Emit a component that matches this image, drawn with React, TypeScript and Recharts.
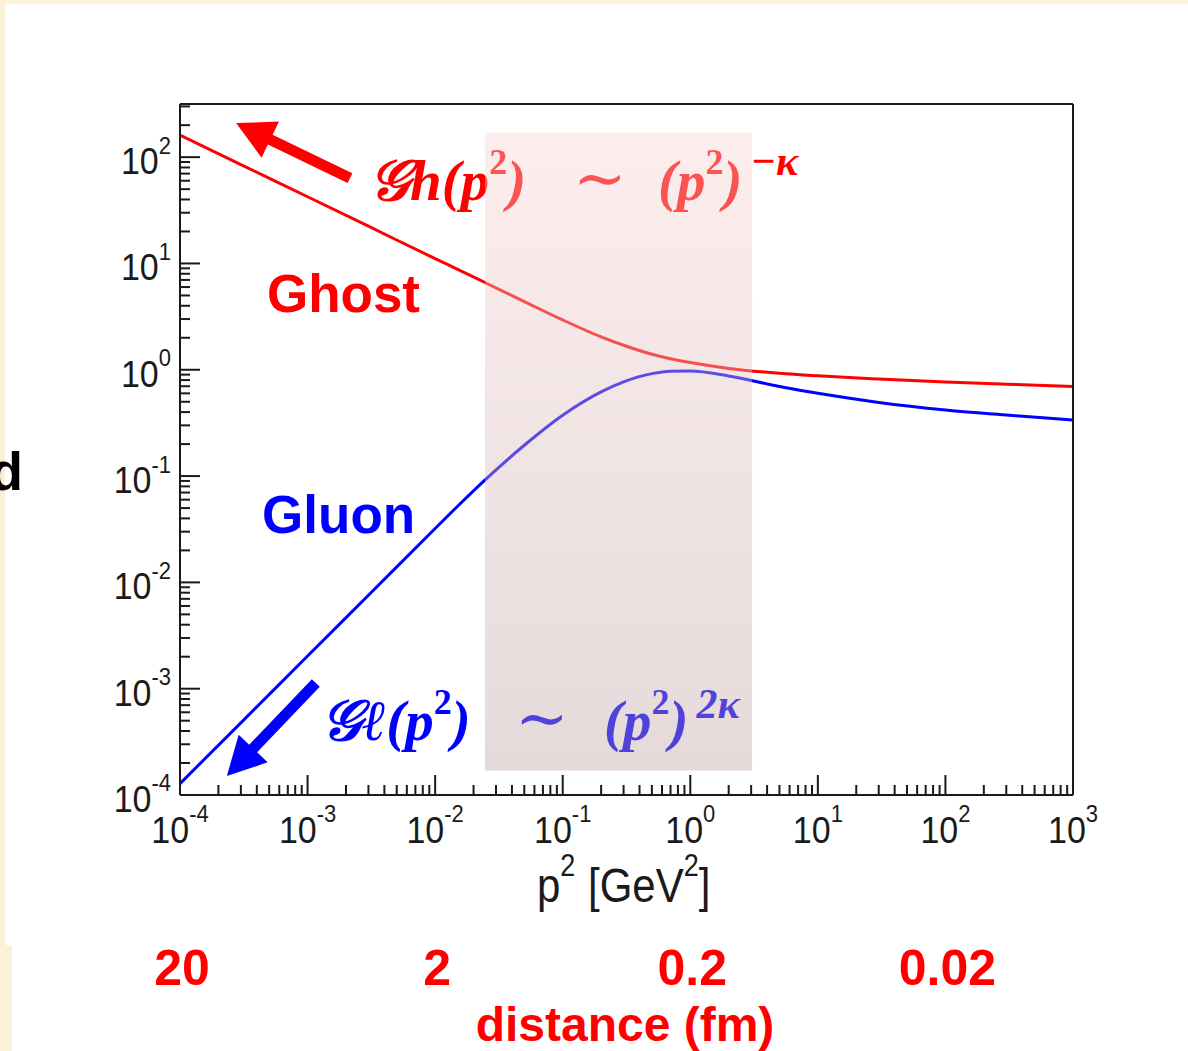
import React from "react";
import {
  LineChart,
  Line,
  XAxis,
  YAxis,
  ReferenceArea,
  ReferenceDot,
  ReferenceLine,
} from "recharts";

// p^2 in GeV^2
const P2 = [1e-4, 3e-4, 1e-3, 3e-3, 1e-2, 0.015, 0.025, 0.05, 0.1, 0.2, 0.3, 0.5, 0.7, 1, 2, 5, 10, 30, 100, 300, 1000];
const GHOST = [161, 85.1, 42.4, 22.4, 11.1, 8.81, 6.55, 4.38, 2.94, 2.04, 1.7, 1.4, 1.27, 1.17, 1.03, 0.927, 0.877, 0.818, 0.767, 0.731, 0.697];
const GLUON = [1.28e-4, 4.77e-4, 2.03e-3, 7.57e-3, 0.0321, 0.052, 0.0935, 0.195, 0.374, 0.62, 0.77, 0.92, 0.969, 0.973, 0.875, 0.697, 0.6, 0.493, 0.419, 0.375, 0.337];

const X_DECADES = [-4, -3, -2, -1, 0, 1, 2, 3];
const Y_DECADES = [-4, -3, -2, -1, 0, 1, 2];
const MINOR = [1, 2, 3, 4, 5, 6, 7, 8, 9];
const X_DOMAIN = [1e-4, 1e3];
const Y_DOMAIN = [1e-4, 316.2];

// distance scale under the axis, 1/p in fm
const DIST_TICKS = [1e-4, 1e-2, 1, 100];
const DIST_LABELS = ["20", "2", "0.2", "0.02"];

const SHADE_X = [0.0246, 3.05];
const SHADE_Y = [1.7e-4, 170];

const GHOST_LABEL = { x: 4.8e-4, y: 3.5 };
const GLUON_LABEL = { x: 4.4e-4, y: 0.0291 };
const GHOST_FORMULA = { x: 3.38e-3, y: 39.4 };
const GLUON_FORMULA = { x: 1.42e-3, y: 3.29e-4 };
const RED_ARROW = [{ x: 2.15e-3, y: 63.5 }, { x: 2.75e-4, y: 209 }];
const BLUE_ARROW = [{ x: 1.16e-3, y: 1.13e-3 }, { x: 2.33e-4, y: 1.51e-4 }];

const data = P2.map((p2, i) => ({ p2, ghost: GHOST[i], gluon: GLUON[i] }));

const logTicks = (decades: number[], max: number) =>
  decades.flatMap((d) => MINOR.map((m) => m * 10 ** d)).filter((v) => v <= max * 1.0001);
const X_TICKS = logTicks(X_DECADES, X_DOMAIN[1]);
const Y_TICKS = logTicks(Y_DECADES, Y_DOMAIN[1]);

const SANS = "'Liberation Sans', Arial, Helvetica, sans-serif";
const MATH = "'Liberation Serif', 'DejaVu Serif', serif";
const INK = "#1a1a1a";
const RED = "#ff0000";
const BLUE = "#0000ff";

function decade(v: number) {
  const e = Math.log10(v);
  return Math.abs(e - Math.round(e)) < 1e-6 ? Math.round(e) : null;
}

function PowerLabel({ e, tx, ty, anchor }: any) {
  return (
    <text
      transform={`translate(${tx},${ty}) scale(1,1.08)`}
      textAnchor={anchor}
      fontFamily={SANS}
      fontSize={34}
      fill={INK}
    >
      <tspan>10</tspan>
      <tspan dy={-19} fontSize={22}>
        {e < 0 ? `-${-e}` : `${e}`}
      </tspan>
    </text>
  );
}

function BottomTick({ x, y, payload }: any) {
  const e = decade(payload.value);
  return (
    <g>
      <line x1={x} x2={x} y1={y} y2={y - (e !== null ? 20 : 10)} stroke={INK} strokeWidth={2} />
      {e !== null && <PowerLabel e={e} tx={x} ty={y + 48} anchor="middle" />}
    </g>
  );
}

function TopTick({ x, y, payload }: any) {
  const e = decade(payload.value);
  return <line x1={x} x2={x} y1={y} y2={y + (e !== null ? 20 : 10)} stroke={INK} strokeWidth={2} />;
}

function LeftTick({ x, y, payload }: any) {
  const e = decade(payload.value);
  return (
    <g>
      <line x1={x} x2={x + (e !== null ? 20 : 10)} y1={y} y2={y} stroke={INK} strokeWidth={2} />
      {e !== null && <PowerLabel e={e} tx={x - 9} ty={y + 17} anchor="end" />}
    </g>
  );
}

function Arrow({ x1, y1, x2, y2, color }: any) {
  const len = Math.hypot(x2 - x1, y2 - y1);
  const ux = (x2 - x1) / len;
  const uy = (y2 - y1) / len;
  const nx = -uy;
  const ny = ux;
  const hl = 38;
  const hw = 20;
  const sw = 5.5;
  const bx = x2 - ux * hl;
  const by = y2 - uy * hl;
  const pts = [
    [x1 + nx * sw, y1 + ny * sw],
    [bx + nx * sw, by + ny * sw],
    [bx + nx * hw, by + ny * hw],
    [x2, y2],
    [bx - nx * hw, by - ny * hw],
    [bx - nx * sw, by - ny * sw],
    [x1 - nx * sw, y1 - ny * sw],
  ];
  return <polygon points={pts.map((p) => p.join(",")).join(" ")} fill={color} />;
}

function Formula({ cx, cy, color, head, gap, open, power }: any) {
  return (
    <text x={cx - 6} y={cy} fill={color} fontFamily={MATH} fontSize={57} fontStyle="italic" fontWeight="bold">
      <tspan>{head}(p</tspan>
      <tspan dy={-26} fontSize={36} fontStyle="normal">2</tspan>
      <tspan dy={26}>)</tspan>
      <tspan x={cx + gap} fontStyle="normal" fontSize={64} fontWeight="normal">∼</tspan>
      <tspan x={cx + open}>(p</tspan>
      <tspan dy={-26} fontSize={36} fontStyle="normal">2</tspan>
      <tspan dy={26}>)</tspan>
      <tspan dx={power.dx} dy={power.dy} fontSize={42}>{power.text}</tspan>
    </text>
  );
}

function BigWord({ cx, cy, text, color }: any) {
  return (
    <text x={cx} y={cy} fill={color} fontFamily={SANS} fontWeight="bold" fontSize={53}>
      {text}
    </text>
  );
}

export default function App() {
  return (
    <div style={{ position: "absolute", left: 0, top: 0, width: 1188, height: 1051, overflow: "hidden", background: "#fbf1d9" }}>
      <div style={{ position: "absolute", left: 5, top: 4, right: 0, height: 941, background: "#fff" }} />
      <div style={{ position: "absolute", left: 12, top: 945, right: 0, bottom: 0, background: "#fff" }} />
      <div style={{ position: "absolute", left: 0, top: 0 }}>
        <LineChart width={1188} height={1051} data={data} margin={{ top: 103, right: 114, bottom: 255, left: 179 }}>
          <defs>
            <linearGradient id="shade" x1="0" y1="0" x2="0" y2="1">
              <stop offset="0%" stopColor="rgb(250,212,212)" />
              <stop offset="100%" stopColor="rgb(190,162,162)" />
            </linearGradient>
          </defs>
          <XAxis
            xAxisId="b"
            dataKey="p2"
            type="number"
            scale="log"
            domain={X_DOMAIN}
            allowDataOverflow
            ticks={X_TICKS}
            interval={0}
            height={1}
            tickSize={0}
            tickMargin={0}
            tickLine={false}
            tick={<BottomTick />}
            axisLine={{ stroke: INK, strokeWidth: 2 }}
          />
          <XAxis
            xAxisId="t"
            orientation="top"
            type="number"
            scale="log"
            domain={X_DOMAIN}
            allowDataOverflow
            ticks={X_TICKS}
            interval={0}
            height={1}
            tickSize={0}
            tickMargin={0}
            tickLine={false}
            tick={<TopTick />}
            axisLine={{ stroke: INK, strokeWidth: 2 }}
          />
          <YAxis
            yAxisId="l"
            type="number"
            scale="log"
            domain={Y_DOMAIN}
            allowDataOverflow
            ticks={Y_TICKS}
            interval={0}
            width={1}
            tickSize={0}
            tickMargin={0}
            tickLine={false}
            tick={<LeftTick />}
            axisLine={{ stroke: INK, strokeWidth: 2 }}
          />
          <YAxis
            yAxisId="r"
            orientation="right"
            type="number"
            scale="log"
            domain={Y_DOMAIN}
            allowDataOverflow
            ticks={[1, 10]}
            width={1}
            tick={false}
            tickLine={false}
            axisLine={{ stroke: INK, strokeWidth: 2 }}
          />
          <Line xAxisId="b" yAxisId="l" type="monotone" dataKey="ghost" stroke={RED} strokeWidth={3} dot={false} activeDot={false} isAnimationActive={false} />
          <Line xAxisId="b" yAxisId="l" type="monotone" dataKey="gluon" stroke={BLUE} strokeWidth={3} dot={false} activeDot={false} isAnimationActive={false} />
          <ReferenceDot xAxisId="b" yAxisId="l" x={GHOST_LABEL.x} y={GHOST_LABEL.y} r={0} zIndex={600}
            shape={(p: any) => <BigWord cx={p.cx} cy={p.cy} text="Ghost" color={RED} />} />
          <ReferenceDot xAxisId="b" yAxisId="l" x={GLUON_LABEL.x} y={GLUON_LABEL.y} r={0} zIndex={600}
            shape={(p: any) => <BigWord cx={p.cx} cy={p.cy} text="Gluon" color={BLUE} />} />
          <ReferenceDot xAxisId="b" yAxisId="l" x={GHOST_FORMULA.x} y={GHOST_FORMULA.y} r={0} zIndex={600}
            shape={(p: any) => (
              <Formula cx={p.cx} cy={p.cy} color={RED} head="𝒢h" gap={198} open={283}
                power={{ dx: 8, dy: -25, text: "−κ" }} />
            )} />
          <ReferenceDot xAxisId="b" yAxisId="l" x={GLUON_FORMULA.x} y={GLUON_FORMULA.y} r={0} zIndex={600}
            shape={(p: any) => (
              <Formula cx={p.cx} cy={p.cy} color={BLUE} head="𝒢ℓ" gap={188} open={277}
                power={{ dx: 8, dy: -22, text: "2κ" }} />
            )} />
          {DIST_TICKS.map((t, i) => (
            <ReferenceDot key={t} xAxisId="b" yAxisId="l" x={t} y={Y_DOMAIN[0]} r={0} ifOverflow="visible" zIndex={600}
              shape={(p: any) => (
                <text x={p.cx + 2} y={p.cy + 190} textAnchor="middle" fontFamily={SANS} fontWeight="bold" fontSize={50} fill={RED}>
                  {DIST_LABELS[i]}
                </text>
              )} />
          ))}
          <ReferenceLine xAxisId="b" yAxisId="l" segment={RED_ARROW} zIndex={600}
            shape={(p: any) => <Arrow x1={p.x1} y1={p.y1} x2={p.x2} y2={p.y2} color={RED} />} />
          <ReferenceLine xAxisId="b" yAxisId="l" segment={BLUE_ARROW} zIndex={600}
            shape={(p: any) => <Arrow x1={p.x1} y1={p.y1} x2={p.x2} y2={p.y2} color={BLUE} />} />
          <ReferenceArea xAxisId="b" yAxisId="l" x1={SHADE_X[0]} x2={SHADE_X[1]} y1={SHADE_Y[0]} y2={SHADE_Y[1]}
            fill="url(#shade)" fillOpacity={0.4} stroke="none" zIndex={900} />
        </LineChart>
      </div>
      <svg style={{ position: "absolute", left: 0, top: 0 }} width={1188} height={1051}>
        <text transform="translate(537,902) scale(1,1.15)" fontFamily={SANS} fontSize={42} fill={INK}>
          <tspan>p</tspan>
          <tspan dy={-23} fontSize={27}>2</tspan>
          <tspan x={51} dy={23}>[GeV</tspan>
          <tspan dy={-23} fontSize={27}>2</tspan>
          <tspan dy={23}>]</tspan>
        </text>
        <text x={625} y={1041} textAnchor="middle" fontFamily={SANS} fontWeight="bold" fontSize={48} fill={RED}>
          distance (fm)
        </text>
        <text x={-10} y={490} fontFamily={SANS} fontWeight="bold" fontSize={54} fill="#000">
          d
        </text>
      </svg>
    </div>
  );
}
